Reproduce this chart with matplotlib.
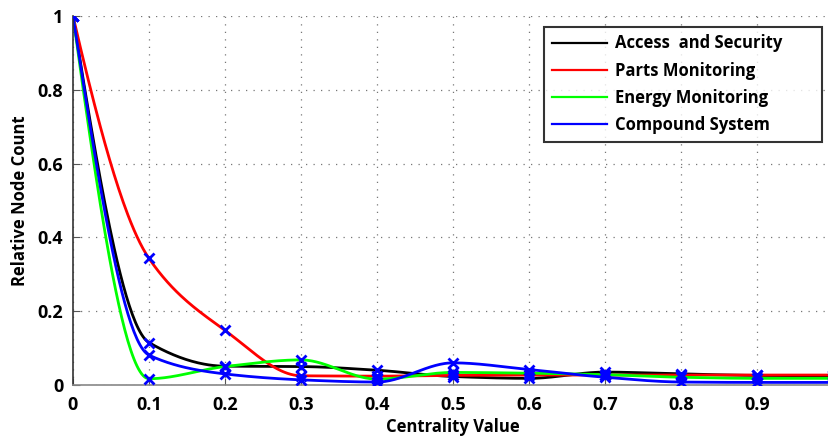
import numpy as np
import matplotlib
matplotlib.use("Agg")
import matplotlib.pyplot as plt

plt.rcParams.update({"font.family": ["Open Sans", "DejaVu Sans"], "font.weight": "bold",
                     "axes.labelweight": "bold"})

centrality = np.round(np.arange(0, 1.01, 0.1), 1)
access = [1.0, 0.115, 0.051, 0.050, 0.040, 0.023, 0.018, 0.035, 0.030, 0.026, 0.025]
parts = [1.0, 0.343, 0.148, 0.025, 0.024, 0.026, 0.027, 0.027, 0.027, 0.027, 0.027]
energy = [1.0, 0.017, 0.050, 0.068, 0.016, 0.034, 0.032, 0.028, 0.021, 0.018, 0.018]
compound = [1.0, 0.081, 0.030, 0.014, 0.008, 0.060, 0.042, 0.021, 0.008, 0.007, 0.007]

series = [("Access  and Security", access, "k"),
          ("Parts Monitoring", parts, "r"),
          ("Energy Monitoring", energy, "#00ff00"),
          ("Compound System", compound, "b")]


def pchip(x, y, xq):
    # shape-preserving piecewise cubic (Fritsch-Carlson)
    x = np.asarray(x, float); y = np.asarray(y, float)
    h = np.diff(x); d = np.diff(y) / h
    m = np.zeros_like(y)
    for k in range(1, len(x) - 1):
        if d[k - 1] * d[k] > 0:
            w1 = 2 * h[k] + h[k - 1]; w2 = h[k] + 2 * h[k - 1]
            m[k] = (w1 + w2) / (w1 / d[k - 1] + w2 / d[k])
    def end(h0, h1, d0, d1):
        s = ((2 * h0 + h1) * d0 - h0 * d1) / (h0 + h1)
        if np.sign(s) != np.sign(d0):
            s = 0.0
        elif np.sign(d0) != np.sign(d1) and abs(s) > abs(3 * d0):
            s = 3 * d0
        return s
    m[0] = end(h[0], h[1], d[0], d[1])
    m[-1] = end(h[-1], h[-2], d[-1], d[-2])
    idx = np.clip(np.searchsorted(x, xq) - 1, 0, len(x) - 2)
    t = (xq - x[idx]) / h[idx]
    h00 = 2 * t**3 - 3 * t**2 + 1; h10 = t**3 - 2 * t**2 + t
    h01 = -2 * t**3 + 3 * t**2; h11 = t**3 - t**2
    return h00 * y[idx] + h10 * h[idx] * m[idx] + h01 * y[idx + 1] + h11 * h[idx] * m[idx + 1]


fig = plt.figure(figsize=(8.29, 4.38), dpi=100)
ax = fig.add_axes([73 / 829, 53 / 438, 760 / 829, 369 / 438])

xs = np.linspace(0, 1, 500)
for name, vals, col in series:
    ax.plot(xs, pchip(centrality, vals, xs), color=col, lw=2, label=name, zorder=2)
for name, vals, col in series:
    ax.plot(centrality, vals, "x", color="b", ms=7, mew=2, zorder=3)

ax.set_xlim(0, 1)
ax.set_ylim(0, 1)
ax.set_xticks(np.arange(0, 1.0, 0.1))
ax.set_xticklabels(["0", "0.1", "0.2", "0.3", "0.4", "0.5", "0.6", "0.7", "0.8", "0.9"])
ax.set_yticks([0, 0.2, 0.4, 0.6, 0.8, 1])
ax.set_yticklabels(["0", "0.2", "0.4", "0.6", "0.8", "1"])
ax.tick_params(axis="both", direction="in", length=5, colors="#555555", labelcolor="black",
               labelsize=13)
ax.tick_params(axis="x", pad=8)
ax.tick_params(axis="y", pad=7)
ax.grid(True, linestyle=(0, (1, 5)), color="#777777", linewidth=0.9)
for s in ("top", "right"):
    ax.spines[s].set_visible(False)
ax.spines["left"].set_color("#333333")
ax.spines["bottom"].set_color("#888888")
ax.spines["left"].set_linewidth(1.2)
ax.spines["bottom"].set_linewidth(1.2)

ax.set_xlabel("Centrality Value", fontsize=12, labelpad=3)
ax.set_ylabel("Relative Node Count", fontsize=12, labelpad=6)

# legend box spans a fixed region in the upper right, text kept left
x0, x1 = (544 - 73) / 760, (822 - 73) / 760
leg = ax.legend(loc="upper left", bbox_to_anchor=(x0, 0.5, x1 - x0, 1 - 11 / 369 - 0.5),
                mode="expand", borderaxespad=0,
                fontsize=12, frameon=True, fancybox=False, edgecolor="black",
                handlelength=3.3, handletextpad=0.5, borderpad=0.45, labelspacing=0.55)
leg.get_frame().set_linewidth(1.5)
for line in leg.get_lines():
    line.set_linewidth(1.6)

fig.savefig("out.png", dpi=100)
